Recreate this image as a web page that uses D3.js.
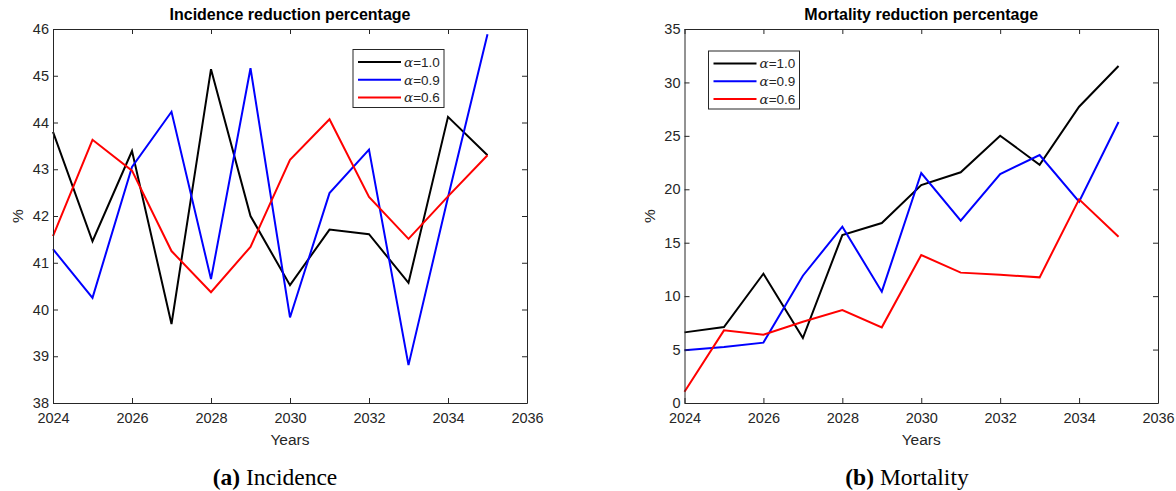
<!DOCTYPE html>
<html><head><meta charset="utf-8">
<script src="https://cdn.jsdelivr.net/npm/d3@7"></script>
<style>body{margin:0;background:#fff}svg{display:block}</style>
</head><body>
<svg id="c" width="1176" height="491"></svg>
<script>
const years = [2024,2025,2026,2027,2028,2029,2030,2031,2032,2033,2034,2035];
const xTicks = [2024,2026,2028,2030,2032,2034,2036];
const seriesNames = ["1.0","0.9","0.6"];
const seriesColors = ["#000000","#0000ff","#ff0000"];

const incAlpha10 = [43.80,41.46,43.39,39.69,45.14,42.00,40.52,41.71,41.61,40.57,44.12,43.30];
const incAlpha09 = [41.29,40.25,43.05,44.23,40.65,45.16,39.83,42.49,43.42,38.81,42.40,45.89];
const incAlpha06 = [41.57,43.63,42.97,41.25,40.37,41.34,43.20,44.07,42.41,41.51,42.42,43.30];
const incTicks = [38,39,40,41,42,43,44,45,46];

const morAlpha10 = [6.61,7.11,12.10,6.08,15.72,16.84,20.40,21.59,25.01,22.30,27.73,31.54];
const morAlpha09 = [4.93,5.24,5.65,11.91,16.50,10.42,21.52,17.06,21.43,23.21,18.84,26.30];
const morAlpha06 = [1.06,6.80,6.39,7.60,8.70,7.08,13.85,12.20,12.00,11.76,19.06,15.56];
const morTicks = [0,5,10,15,20,25,30,35];

const svg = d3.select("#c");
const axCol = "#262626";
const SANS = "Liberation Sans, Arial, Helvetica, sans-serif";

function panel(cfg){
  const g = svg.append("g");
  const x = d3.scaleLinear().domain([2024,2036]).range([cfg.left, cfg.right]);
  const y = d3.scaleLinear().domain(cfg.ydom).range([403, 29]);
  const line = d3.line().x((d,i)=>x(years[i])).y(d=>y(d));
  cfg.data.forEach((s,k)=>{
    g.append("path").datum(s).attr("d",line).attr("fill","none")
      .attr("stroke",seriesColors[k]).attr("stroke-width",2).attr("stroke-linejoin","miter");
  });
  const ax = g.append("g");
  const bottom = ax.append("g").attr("transform",`translate(0,403)`)
    .call(d3.axisBottom(x).tickValues(xTicks).tickFormat(d3.format("d")).tickSizeInner(-5).tickSizeOuter(0).tickPadding(8));
  ax.append("g").attr("transform",`translate(0,29)`)
    .call(d3.axisTop(x).tickValues(xTicks).tickFormat("").tickSizeInner(-5).tickSizeOuter(0));
  ax.append("g").attr("transform",`translate(${cfg.left},0)`)
    .call(d3.axisLeft(y).tickValues(cfg.ticks).tickFormat(d3.format("d")).tickSizeInner(-5).tickSizeOuter(0).tickPadding(4));
  ax.append("g").attr("transform",`translate(${cfg.right},0)`)
    .call(d3.axisRight(y).tickValues(cfg.ticks).tickFormat("").tickSizeInner(-5).tickSizeOuter(0));
  ax.selectAll("g").attr("font-family",SANS).attr("font-size",14.5);
  ax.selectAll(".domain").attr("stroke",axCol).attr("stroke-width",1);
  ax.selectAll(".tick line").attr("stroke",axCol).attr("stroke-width",1);
  ax.selectAll(".tick text").attr("fill",axCol).style("font-size","14.5px").style("font-family",SANS);
  bottom.selectAll(".tick text").attr("dy","0.85em");
  g.append("text").attr("x",(cfg.left+cfg.right)/2).attr("y",20).attr("text-anchor","middle")
    .style("font-family",SANS).style("font-weight","bold").style("font-size","16px")
    .attr("fill","#000").text(cfg.title);
  g.append("text").attr("x",(cfg.left+cfg.right)/2).attr("y",445).attr("text-anchor","middle")
    .style("font-family",SANS).style("font-size","15.5px").attr("fill",axCol).text("Years");
  g.append("text").attr("transform",`translate(${cfg.left-30},216) rotate(-90)`).attr("text-anchor","middle")
    .style("font-family",SANS).style("font-size","15.5px").attr("fill",axCol).text("%");
  const L = cfg.legend;
  const lg = g.append("g").attr("transform",`translate(${L.x},${L.y})`);
  lg.append("rect").attr("x",0).attr("y",0).attr("width",91).attr("height",58)
    .attr("fill","#fff").attr("stroke",axCol).attr("stroke-width",1);
  seriesNames.forEach((n,k)=>{
    const yy = 12.5 + k*17.8;
    lg.append("line").attr("x1",5).attr("x2",48).attr("y1",yy).attr("y2",yy)
      .attr("stroke",seriesColors[k]).attr("stroke-width",2);
    const t = lg.append("text").attr("x",51).attr("y",yy+4.8)
      .style("font-size","13.5px").style("font-family",SANS).attr("fill",axCol);
    t.append("tspan").style("font-family","DejaVu Serif, Liberation Serif, serif").style("font-style","italic").text("α");
    t.append("tspan").text("="+n);
  });
  const cap = svg.append("text").attr("x",cfg.capX).attr("y",485).attr("text-anchor","middle")
    .style("font-family","Liberation Serif, Times New Roman, serif").style("font-size","23.5px").attr("fill","#000");
  cap.append("tspan").style("font-weight","bold").text(cfg.capL);
  cap.append("tspan").text(" "+cfg.capR);
}

panel({left:53,right:527,ydom:[38,46],ticks:incTicks,data:[incAlpha10,incAlpha09,incAlpha06],
  title:"Incidence reduction percentage",legend:{x:353,y:49.5},capX:275,capL:"(a)",capR:"Incidence"});
panel({left:684.5,right:1158,ydom:[0,35],ticks:morTicks,data:[morAlpha10,morAlpha09,morAlpha06],
  title:"Mortality reduction percentage",legend:{x:708.5,y:51},capX:907,capL:"(b)",capR:"Mortality"});
</script>
</body></html>
